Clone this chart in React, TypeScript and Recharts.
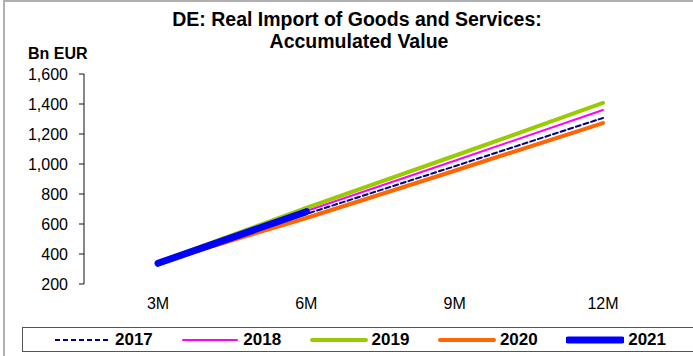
import React from "react";
import { LineChart, Line, XAxis, YAxis } from "recharts";

const periods = ["3M", "6M", "9M", "12M"];
const years = ["2017", "2018", "2019", "2020", "2021"];

const imports2017 = [330, 667, 985, 1307];
const imports2018 = [338, 687, 1022, 1360];
const imports2019 = [345, 707, 1055, 1407];
const imports2020 = [342, 640, 955, 1273];
const imports2021 = [338, 682, null, null];

const yTicks = [200, 400, 600, 800, 1000, 1200, 1400, 1600];
const frameTicks = [0, 1, 2, 3, 4];

const seriesValues = [imports2017, imports2018, imports2019, imports2020, imports2021];

const seriesStyle: Record<string, { color: string; width: number; dash?: string }> = {
  "2017": { color: "#000080", width: 2, dash: "5 3" },
  "2018": { color: "#ff00ff", width: 2 },
  "2019": { color: "#99cc00", width: 4 },
  "2020": { color: "#ff6600", width: 4 },
  "2021": { color: "#0000ff", width: 7 },
};

const data = periods.map((period, i) => {
  const row: Record<string, string | number | null> = { period };
  years.forEach((y, k) => {
    row[y] = seriesValues[k][i];
  });
  return row;
});

const FONT = '"Liberation Sans", Arial, sans-serif';

export default function App() {
  return (
    <div
      style={{
        position: "absolute",
        left: 0,
        top: 0,
        width: 693,
        height: 356,
        background: "#fff",
        fontFamily: FONT,
        overflow: "hidden",
      }}
    >
      {/* frame */}
      <div
        style={{
          position: "absolute",
          left: 3,
          top: 0,
          width: 700,
          height: 400,
          borderLeft: "2px solid #b0b0b0",
          borderTop: "2px solid #b0b0b0",
        }}
      />
      <LineChart
        width={693}
        height={356}
        data={data}
        margin={{ top: 74, right: 16, bottom: 42, left: 0 }}
      >
        <XAxis
          xAxisId="frame"
          type="number"
          domain={[0, 4]}
          ticks={frameTicks}
          allowDataOverflow
          height={0}
          tickSize={6}
          tickFormatter={() => ""}
          stroke="#555"
          tickLine={{ stroke: "#333" }}
        />
        <XAxis
          dataKey="period"
          padding={{ left: 74, right: 74 }}
          height={30}
          axisLine={false}
          tickLine={false}
          tickSize={6}
          tickMargin={8}
          tick={{ fontSize: 16, fill: "#000", fontFamily: FONT }}
        />
        <YAxis
          domain={[200, 1600]}
          ticks={yTicks}
          width={84}
          tickSize={5}
          tickMargin={11}
          stroke="#111"
          tick={{ fontSize: 16, fill: "#000", fontFamily: FONT }}
          tickFormatter={(v: number) => v.toLocaleString("en-US")}
        />
        {years.map((y) => (
          <Line
            key={y}
            dataKey={y}
            type="linear"
            stroke={seriesStyle[y].color}
            strokeWidth={seriesStyle[y].width}
            strokeDasharray={seriesStyle[y].dash}
            strokeLinecap="round"
            dot={false}
            activeDot={false}
            isAnimationActive={false}
          />
        ))}
      </LineChart>

      <svg
        width={693}
        height={70}
        style={{ position: "absolute", left: 0, top: 0, pointerEvents: "none" }}
      >
        <text x={357} y={26} textAnchor="middle" fontSize={19.5} fontWeight="bold" fontFamily={FONT}>
          DE: Real Import of Goods and Services:
        </text>
        <text x={359} y={48} textAnchor="middle" fontSize={19.5} fontWeight="bold" fontFamily={FONT}>
          Accumulated Value
        </text>
        <text x={28} y={59} fontSize={16} fontWeight="bold" fontFamily={FONT}>
          Bn EUR
        </text>
      </svg>

      {/* legend */}
      <div
        style={{
          position: "absolute",
          left: 22,
          top: 327,
          width: 665,
          height: 23,
          border: "1px solid #555",
          display: "flex",
          alignItems: "center",
          paddingLeft: 30,
          boxSizing: "content-box",
        }}
      >
        {years.map((y) => (
          <div key={y} style={{ width: 128.3, display: "flex", alignItems: "center", flexShrink: 0 }}>
            <svg width={58} height={10}>
              <line
                x1={2}
                x2={56}
                y1={5}
                y2={5}
                stroke={seriesStyle[y].color}
                strokeWidth={seriesStyle[y].width}
                strokeDasharray={seriesStyle[y].dash}
                strokeLinecap={seriesStyle[y].dash ? "butt" : "round"}
              />
            </svg>
            <span style={{ fontSize: 17, fontWeight: "bold", marginLeft: 4, lineHeight: "17px" }}>{y}</span>
          </div>
        ))}
      </div>
    </div>
  );
}
